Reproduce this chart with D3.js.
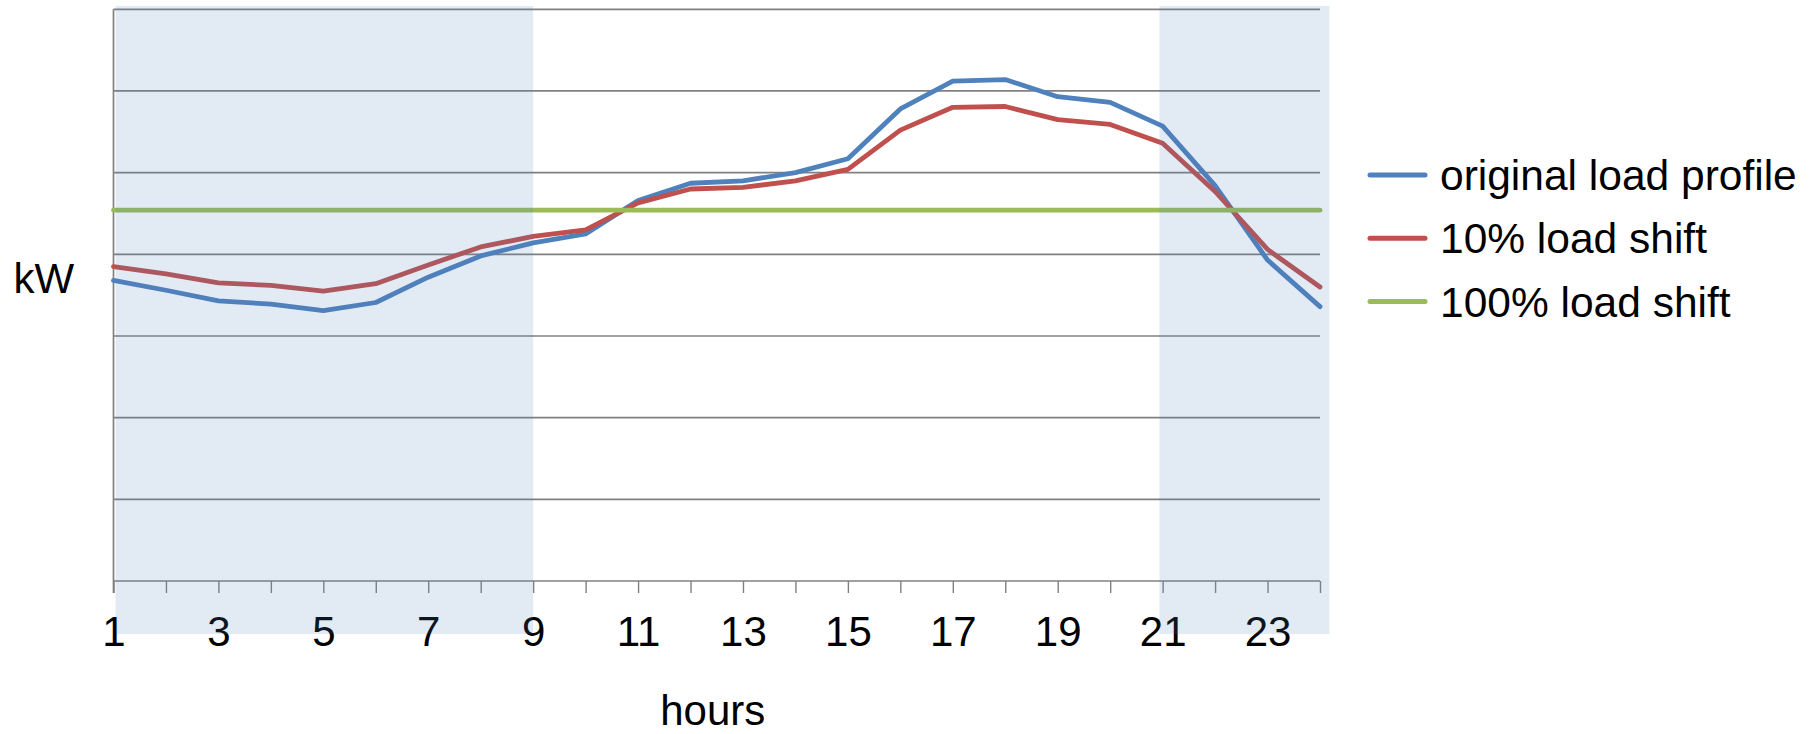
<!DOCTYPE html>
<html>
<head>
<meta charset="utf-8">
<script src="https://cdn.jsdelivr.net/npm/d3@7"></script>
<style>
  html, body { margin: 0; padding: 0; background: #fff; }
  svg text { font-family: "Liberation Sans", Arial, sans-serif; fill: #000; }
</style>
</head>
<body>
<svg id="chart" width="1816" height="734"></svg>
<script>
// Hourly load profile (kW, relative units)
const hours = d3.range(1, 25);
const originalLoad = [3.68, 3.56, 3.43, 3.39, 3.31, 3.41, 3.72, 3.98, 4.14, 4.25, 4.66, 4.87,
                      4.90, 5.00, 5.17, 5.78, 6.12, 6.14, 5.93, 5.86, 5.57, 4.84, 3.93, 3.36];
const shift10 = [3.85, 3.76, 3.65, 3.62, 3.55, 3.64, 3.87, 4.09, 4.22, 4.30, 4.63, 4.80,
                 4.82, 4.90, 5.04, 5.52, 5.80, 5.81, 5.65, 5.59, 5.36, 4.77, 4.06, 3.60];
const shift100 = [4.54, 4.54, 4.54, 4.54, 4.54, 4.54, 4.54, 4.54, 4.54, 4.54, 4.54, 4.54,
                  4.54, 4.54, 4.54, 4.54, 4.54, 4.54, 4.54, 4.54, 4.54, 4.54, 4.54, 4.54];
const seriesNames = ["original load profile", "10% load shift", "100% load shift"];
const seriesColors = ["#4F81BD", "#C0504D", "#9BBB59"];
const tickLabels = [1, 3, 5, 7, 9, 11, 13, 15, 17, 19, 21, 23];
// Off-peak periods (hour ranges)
const offPeakStart = [1.04, 20.94];
const offPeakEnd = [9, 24.18];

const svg = d3.select("#chart");
const x = d3.scaleLinear().domain([1, 24]).range([113.5, 1320]);
const y = d3.scaleLinear().domain([0, 7]).range([581, 9.3]);

// horizontal gridlines
svg.append("g")
  .selectAll("line")
  .data(d3.range(0, 8))
  .join("line")
  .attr("x1", x(1)).attr("x2", x(24))
  .attr("y1", d => y(d)).attr("y2", d => y(d))
  .attr("stroke", "#808080").attr("stroke-width", 1.7);

// vertical axis line
svg.append("line")
  .attr("x1", x(1)).attr("x2", x(1))
  .attr("y1", y(7)).attr("y2", y(0) + 12)
  .attr("stroke", "#808080").attr("stroke-width", 1.7);

// x axis ticks and labels
const xAxis = d3.axisBottom(x)
  .tickValues(hours)
  .tickSize(12)
  .tickFormat(d => tickLabels.includes(d) ? d : "");
const gx = svg.append("g").attr("transform", `translate(0,${y(0)})`).call(xAxis);
gx.select(".domain").remove();
gx.selectAll(".tick line").attr("stroke", "#808080").attr("stroke-width", 1.4);
gx.selectAll(".tick text")
  .attr("y", 65).attr("dy", 0)
  .style("font-size", "42px")
  .style("font-family", "'Liberation Sans', Arial, sans-serif")
  .attr("fill", "#000");

// series lines
const line = d3.line().x((d, i) => x(hours[i])).y(d => y(d));
[originalLoad, shift10, shift100].forEach((vals, k) => {
  svg.append("path")
    .datum(vals)
    .attr("d", line)
    .attr("fill", "none")
    .attr("stroke", seriesColors[k])
    .attr("stroke-width", 4.8)
    .attr("stroke-linejoin", "round")
    .attr("stroke-linecap", "round");
});

// off-peak shading overlay
svg.append("g")
  .selectAll("rect")
  .data(offPeakStart)
  .join("rect")
  .attr("x", (d) => x(d))
  .attr("width", (d, i) => x(offPeakEnd[i]) - x(d))
  .attr("y", 6)
  .attr("height", 628)
  .attr("fill", "#4F81BD")
  .attr("fill-opacity", 0.165);

// axis titles
svg.append("text")
  .attr("x", 13.5).attr("y", 293)
  .style("font-size", "42px")
  .text("kW");
svg.append("text")
  .attr("x", (x(1) + x(24)) / 2 - 4).attr("y", 725)
  .attr("text-anchor", "middle")
  .style("font-size", "42px")
  .text("hours");

// legend
const legend = svg.append("g")
  .selectAll("g")
  .data(seriesNames)
  .join("g")
  .attr("transform", (d, i) => `translate(1370,${175 + i * 63.3})`);
legend.append("line")
  .attr("x1", 0).attr("x2", 55)
  .attr("stroke", (d, i) => seriesColors[i])
  .attr("stroke-width", 5)
  .attr("stroke-linecap", "round");
legend.append("text")
  .attr("x", 70).attr("y", 15)
  .style("font-size", "42.5px")
  .text(d => d);
</script>
</body>
</html>
